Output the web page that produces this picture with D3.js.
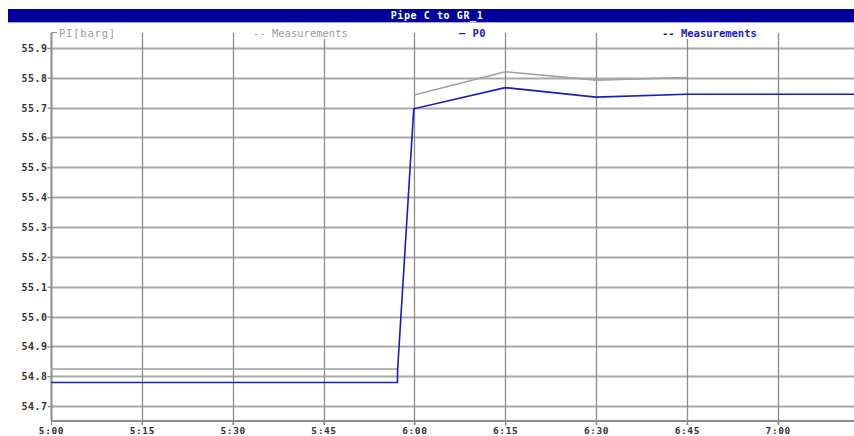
<!DOCTYPE html>
<html>
<head>
<meta charset="utf-8">
<script src="https://cdn.jsdelivr.net/npm/d3@7"></script>
<style>
  html, body { margin: 0; padding: 0; background: #fff; }
  svg { display: block; }
  text { font-family: "DejaVu Sans Mono", monospace; }
</style>
</head>
<body>
<script>
// Time in minutes after midnight, pressure in barg
const chartTitle = "Pipe C to GR_1";
const timeStart = 300;      // 5:00
const timeEnd = 432.6;      // right edge of the trend window
const yMin = 54.65, yMax = 55.95;

const xTicks = [300, 315, 330, 345, 360, 375, 390, 405, 420];
const xTickLabels = ["5:00", "5:15", "5:30", "5:45", "6:00", "6:15", "6:30", "6:45", "7:00"];
const yTicks = [54.7, 54.8, 54.9, 55.0, 55.1, 55.2, 55.3, 55.4, 55.5, 55.6, 55.7, 55.8, 55.9];

// Measured PI (grey); null marks a gap in the record
const measTime  = [300, 357.2, null, 360, 375, 390, 405];
const measValue = [54.824, 54.824, null, 55.742, 55.820, 55.792, 55.801];

// Simulated P0 (blue)
const p0Time  = [300, 357.2, 357.25, 359.9, 375, 390, 405, 420, 432.6];
const p0Value = [54.779, 54.779, 54.826, 55.696, 55.767, 55.735, 55.745, 55.745, 55.745];

const W = 854, H = 436;
const plot = { left: 51, right: 854, top: 33, bottom: 421 };

const svg = d3.select("body").append("svg").attr("width", W).attr("height", H);

const x = d3.scaleLinear().domain([timeStart, timeEnd]).range([plot.left, plot.right]);
const y = d3.scaleLinear().domain([yMin, yMax]).range([plot.bottom, plot.top]);

// Title bar
svg.append("rect").attr("x", 8).attr("y", 9).attr("width", W - 8).attr("height", 13).attr("fill", "#00009c");
svg.append("line").attr("x1", 8).attr("x2", W).attr("y1", 22.5).attr("y2", 22.5).attr("stroke", "#a8a8d8").attr("stroke-width", 1);
svg.append("text").attr("x", 437).attr("y", 18.5).attr("text-anchor", "middle")
  .attr("fill", "#fff").attr("font-weight", "bold").attr("font-size", 10).attr("letter-spacing", 0.6)
  .text(chartTitle);

// Horizontal grid lines
svg.append("g").selectAll("line").data(yTicks).join("line")
  .attr("x1", plot.left).attr("x2", plot.right)
  .attr("y1", d => Math.round(y(d)) + 0.5).attr("y2", d => Math.round(y(d)) + 0.5)
  .attr("stroke", "#a9a9a9").attr("stroke-width", 2);

// Vertical grid lines (extend a few pixels below the axis as ticks)
svg.append("g").selectAll("line").data(xTicks.slice(1)).join("line")
  .attr("x1", d => Math.round(x(d)) + 0.5).attr("x2", d => Math.round(x(d)) + 0.5)
  .attr("y1", plot.top).attr("y2", plot.bottom + 4)
  .attr("stroke", "#8c8c8c").attr("stroke-width", 1.3);

// Y axis
const yAxis = d3.axisLeft(y).tickValues(yTicks).tickSize(4).tickFormat(d3.format(".1f"));
const gy = svg.append("g").attr("transform", `translate(${plot.left + 0.5},0)`).call(yAxis);
gy.select(".domain").attr("stroke", "#8c8c8c").attr("stroke-width", 2).attr("d", `M0,${plot.top}V${plot.bottom}`);
gy.selectAll(".tick line").attr("stroke", "#8c8c8c").attr("stroke-width", 1.3);
gy.selectAll(".tick text").attr("fill", "#333").attr("font-weight", "bold")
  .attr("font-size", 10).attr("letter-spacing", 0.5).attr("x", -4).attr("dy", "0.35em")
  .style("font-family", "'DejaVu Sans Mono', monospace");

// X axis
const xAxis = d3.axisBottom(x).tickValues(xTicks).tickSize(4)
  .tickFormat((d, i) => xTickLabels[i]);
const gx = svg.append("g").attr("transform", `translate(0,${plot.bottom})`).call(xAxis);
gx.select(".domain").attr("stroke", "#8c8c8c").attr("stroke-width", 2).attr("d", `M${plot.left},0H${plot.right}`);
gx.selectAll(".tick line").attr("stroke", "#8c8c8c").attr("stroke-width", 1.3);
gx.selectAll(".tick text").attr("fill", "#333").attr("font-weight", "bold")
  .attr("font-size", 9.5).attr("letter-spacing", 0.6).attr("y", 13).attr("dy", null)
  .style("font-family", "'DejaVu Sans Mono', monospace");

// Series
const line = d3.line()
  .defined(d => d[0] !== null && d[1] !== null)
  .x(d => x(d[0])).y(d => y(d[1]));

const measData = measTime.map((t, i) => [t, measValue[i]]);
const p0Data = p0Time.map((t, i) => [t, p0Value[i]]);

svg.append("path").datum(measData).attr("d", line)
  .attr("fill", "none").attr("stroke", "#a0a0a0").attr("stroke-width", 1.6);
svg.append("path").datum(p0Data).attr("d", line)
  .attr("fill", "none").attr("stroke", "#1a1ac0").attr("stroke-width", 1.6);

// Legend row along the top of the plot
const legendY = 33;
svg.append("path").attr("d", `M${plot.left + 0.5},${legendY + 1}V${legendY - 0.5}H58`)
  .attr("fill", "none").attr("stroke", "#8c8c8c").attr("stroke-width", 1);

const legendItems = [
  { text: "PI[barg]", x: 59, color: "#9a9a9a", bold: false, ls: 0.8 },
  { text: "-- Measurements", x: 253, color: "#9a9a9a", bold: false, ls: 0 },
  { text: "\u2014 P0", x: 459, color: "#1a1ac0", bold: true, ls: 0.4 },
  { text: "-- Measurements", x: 662, color: "#1a1ac0", bold: true, ls: 0 }
];
const lg = svg.append("g");
legendItems.forEach(it => {
  const t = lg.append("text").attr("x", it.x).attr("y", legendY + 3.5)
    .attr("fill", it.color).attr("font-size", 10.5).attr("letter-spacing", it.ls)
    .attr("font-weight", it.bold ? "bold" : "normal").text(it.text);
  const bb = t.node().getBBox();
  lg.insert("rect", "text").attr("x", bb.x - 2).attr("y", legendY - 6)
    .attr("width", bb.width + 4).attr("height", 12).attr("fill", "#fff");
});
</script>
</body>
</html>
